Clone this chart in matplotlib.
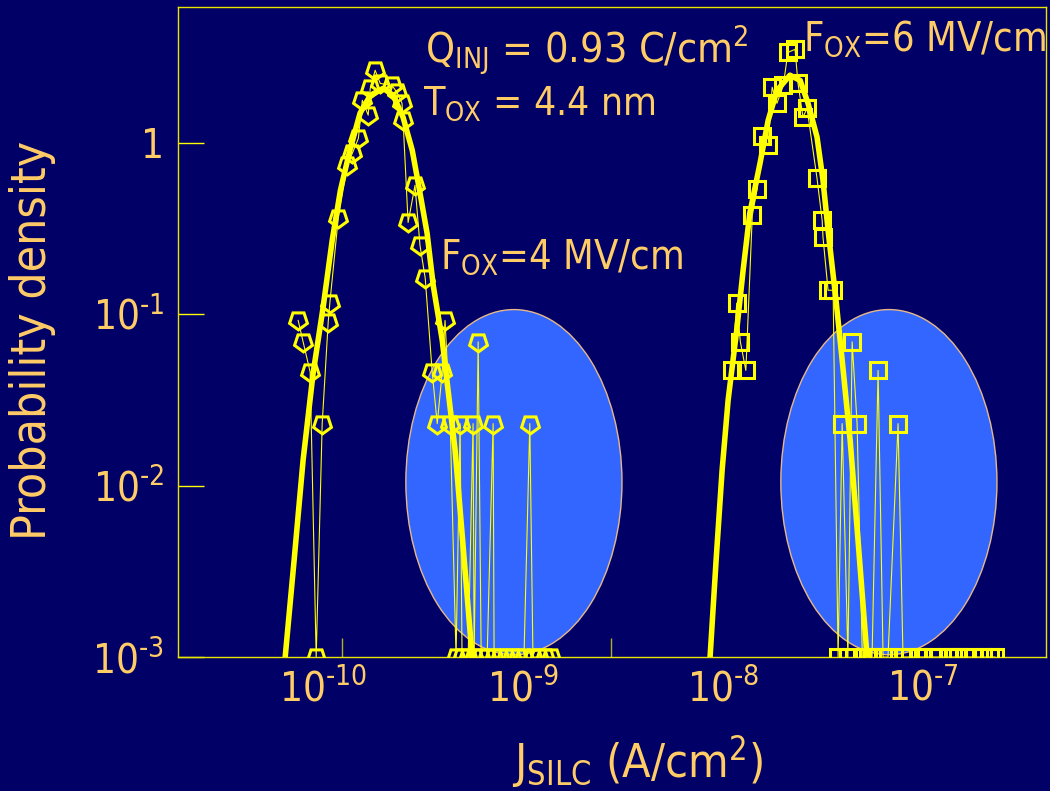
import numpy as np
import matplotlib
matplotlib.use("Agg")
import matplotlib.pyplot as plt
from matplotlib.patches import Ellipse

plt.rcParams['font.family'] = ['DejaVu Sans']
plt.rcParams['font.stretch'] = 'condensed'
plt.rcParams['mathtext.default'] = 'regular'

BG = '#000066'
TXT = '#FFCC66'
YEL = '#FFFF00'
FLOOR = 1e-3   # empty bins sit on the axis floor

# F_OX = 4 MV/cm : histogram of J_SILC (circles)
j4 = [7.50e-11, 7.94e-11, 8.61e-11, 9.89e-11, 1.06e-10, 1.08e-10, 1.19e-10,
      1.32e-10, 1.40e-10, 1.50e-10, 1.57e-10, 1.68e-10, 1.72e-10, 1.82e-10,
      1.93e-10, 2.21e-10, 2.34e-10, 2.48e-10, 2.51e-10, 2.66e-10, 2.88e-10,
      3.05e-10, 3.24e-10, 3.51e-10, 3.72e-10, 3.94e-10, 4.07e-10, 4.32e-10,
      4.84e-10, 5.62e-10, 5.96e-10, 7.08e-10, 1.08e-9]
p4 = [0.092, 0.069, 0.046, 0.023, 0.090, 0.116, 0.363,
      0.74, 0.87, 1.06, 1.77, 1.45, 2.08, 2.65,
      2.22, 2.16, 1.97, 1.70, 1.35, 0.343, 0.565,
      0.252, 0.162, 0.046, 0.023, 0.046, 0.092, 0.023,
      0.023, 0.023, 0.069, 0.023, 0.023]
j4_empty = [9.23e-11, 4.62e-10, 4.95e-10, 5.31e-10, 5.69e-10, 6.17e-10,
            6.61e-10, 7.16e-10, 7.67e-10, 8.22e-10, 8.81e-10, 9.44e-10,
            1.01e-9, 1.12e-9, 1.20e-9, 1.29e-9, 1.38e-9]

# log-normal fit, F_OX = 4 MV/cm
j4_fit = [6.46e-11, 7.16e-11, 7.94e-11, 8.91e-11, 1.00e-10, 1.11e-10,
          1.22e-10, 1.36e-10, 1.53e-10, 1.72e-10, 2.00e-10, 2.24e-10,
          2.51e-10, 2.79e-10, 2.99e-10, 3.31e-10, 3.55e-10, 3.94e-10,
          4.27e-10, 4.57e-10, 4.95e-10, 5.56e-10]
p4_fit = [1.0e-3, 0.00368, 0.0141, 0.0453, 0.110, 0.270,
          0.528, 0.904, 1.49, 1.89, 2.08, 1.89,
          1.41, 0.904, 0.581, 0.297, 0.148, 0.0705,
          0.0316, 0.0161, 0.00528, 1.0e-3]

# F_OX = 6 MV/cm : histogram of J_SILC (squares)
j6 = [1.11e-8, 1.17e-8, 1.22e-8, 1.30e-8, 1.40e-8, 1.48e-8, 1.57e-8,
      1.68e-8, 1.76e-8, 1.86e-8, 2.00e-8, 2.11e-8, 2.29e-8, 2.37e-8,
      2.51e-8, 2.63e-8, 2.95e-8, 3.13e-8, 3.16e-8, 3.35e-8, 3.55e-8,
      3.94e-8, 4.42e-8, 4.68e-8, 5.96e-8, 7.50e-8]
p6 = [0.047, 0.116, 0.069, 0.047, 0.378, 0.536, 1.09,
      0.966, 2.11, 1.70, 2.16, 3.37, 3.51, 2.22,
      1.41, 1.59, 0.62, 0.353, 0.281, 0.138, 0.138,
      0.023, 0.069, 0.023, 0.047, 0.023]
j6_empty = [3.76e-8, 4.21e-8, 4.97e-8, 5.31e-8, 5.56e-8, 6.31e-8, 6.68e-8,
            7.94e-8, 8.61e-8, 9.44e-8, 1.00e-7, 1.12e-7, 1.19e-7, 1.33e-7,
            1.41e-7, 1.50e-7, 1.63e-7, 1.78e-7, 1.99e-7, 2.16e-7, 2.29e-7]

# log-normal fit, F_OX = 6 MV/cm
j6_fit = [8.61e-9, 9.23e-9, 9.89e-9, 1.06e-8, 1.17e-8, 1.26e-8, 1.36e-8,
          1.53e-8, 1.68e-8, 1.86e-8, 2.16e-8, 2.43e-8, 2.66e-8, 2.95e-8,
          3.16e-8, 3.35e-8, 3.67e-8, 3.94e-8, 4.32e-8, 4.73e-8, 5.25e-8]
p6_fit = [1.0e-3, 0.00368, 0.0123, 0.0316, 0.0807, 0.181, 0.388,
          0.759, 1.35, 2.02, 2.48, 2.31, 1.70, 1.08,
          0.604, 0.309, 0.121, 0.054, 0.0184, 0.0048, 1.0e-3]

xticks = [1e-10, 1e-9, 1e-8, 1e-7]
xtick_labels = ['$10^{\u201010}$', '$10^{\u2010 9}$', '$10^{\u20108}$', '$10^{\u20107}$']
yticks = [1e-3, 1e-2, 1e-1, 1]
ytick_labels = ['$10^{\u20103}$', '$10^{\u20102}$', '$10^{\u20101}$', '1']


def histogram_line(j, p, j_empty):
    # all bins in x order, empty ones pinned to the floor
    jj = np.concatenate([j, j_empty])
    pp = np.concatenate([p, np.full(len(j_empty), FLOOR)])
    order = np.argsort(jj)
    return jj[order], pp[order]


fig = plt.figure(figsize=(10.5, 7.91), dpi=100, facecolor=BG)
ax = fig.add_axes([178 / 1050, 134 / 791, 868 / 1050, 650 / 791])
ax.set_facecolor(BG)
ax.set_xscale('log')
ax.set_yscale('log')
ax.set_xlim(1.88e-11, 4.12e-7)
ax.set_ylim(1e-3, 6.2)

# highlighted tails
for cx in (0.387, 0.819):
    ax.add_patch(Ellipse((cx, 0.269), 0.249, 0.531, transform=ax.transAxes,
                         facecolor='#3366FF', edgecolor='#E8B888', lw=1, zorder=1))

for j, p, je, mk, ms in [(j4, p4, j4_empty, (5, 0, 180), 13.5),
                         (j6, p6, j6_empty, 's', 12)]:
    xs, ys = histogram_line(j, p, je)
    ax.plot(xs, ys, color=YEL, lw=0.8, zorder=2)
    ax.plot(xs, ys, ls='none', marker=mk, ms=ms, mfc='none', mec=YEL,
            mew=2.2, zorder=4)

ax.plot(j4_fit, p4_fit, color=YEL, lw=4, solid_joinstyle='round', zorder=3)
ax.plot(j6_fit, p6_fit, color=YEL, lw=4, solid_joinstyle='round', zorder=3)

ax.set_xticks(xticks)
ax.set_xticklabels(xtick_labels)
ax.set_xticks([1.24e-10, 2.75e-9], minor=True)
ax.set_xticklabels([], minor=True)
ax.set_yticks(yticks)
ax.set_yticklabels(ytick_labels)
ax.yaxis.set_minor_locator(matplotlib.ticker.NullLocator())
ax.tick_params(axis='x', which='major', length=0, pad=9, labelsize=29, labelcolor=TXT)
ax.tick_params(axis='x', which='minor', direction='in', length=14, width=1, color='#B0B020')
ax.tick_params(axis='y', which='major', direction='in', length=19, width=1,
               color=YEL, pad=10, labelsize=29, labelcolor=TXT)
for s in ax.spines.values():
    s.set_color('#E6E600')
    s.set_linewidth(1)

fig.text(33 / 1050, 1 - 340 / 791, 'Probability density', rotation=90,
         ha='center', va='center', fontsize=34.5, color=TXT)
fig.text(638 / 1050, 14 / 791, 'J$_{SILC}$ (A/cm$^{2}$)', ha='center',
         va='baseline', fontsize=33.5, color=TXT)

fig.text(425 / 1050, 1 - 62 / 791, 'Q$_{INJ}$ = 0.93 C/cm$^{2}$',
         va='baseline', fontsize=29.5, color=TXT)
fig.text(423 / 1050, 1 - 115 / 791, 'T$_{OX}$ = 4.4 nm',
         va='baseline', fontsize=28, color=TXT)
fig.text(440 / 1050, 1 - 268 / 791, 'F$_{OX}$=4 MV/cm',
         va='baseline', fontsize=28.5, color=TXT)
fig.text(803 / 1050, 1 - 50 / 791, 'F$_{OX}$=6 MV/cm',
         va='baseline', fontsize=28.5, color=TXT)

fig.savefig('out.png', dpi=100, facecolor=BG)
